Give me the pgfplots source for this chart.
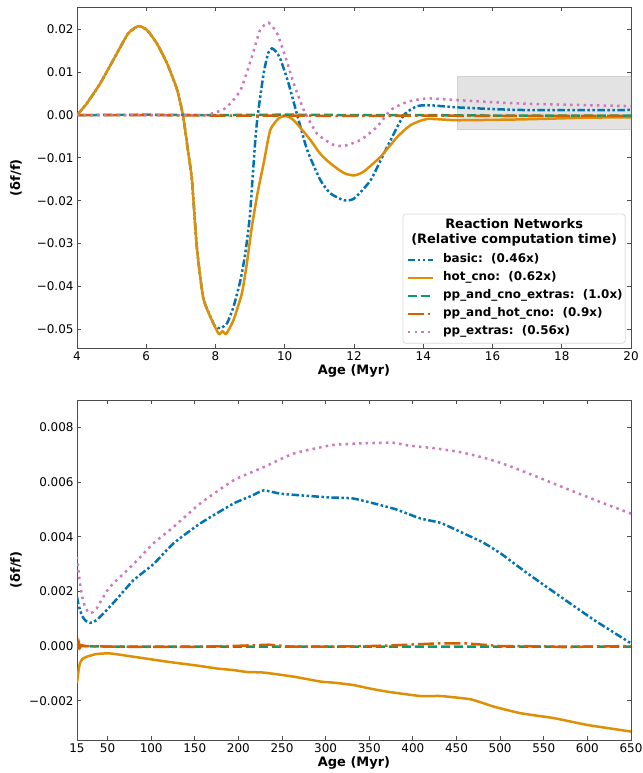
\documentclass[border=0pt]{standalone}
\usepackage{fontspec}
\setmainfont{DejaVu Sans}
\usepackage{pgfplots}
\usepackage{pgfplotstable}
\pgfplotsset{compat=1.18}
\definecolor{cbblue}{HTML}{0173B2}
\definecolor{cborange}{HTML}{DE8F05}
\definecolor{cbgreen}{HTML}{029E73}
\definecolor{cbred}{HTML}{D55E00}
\definecolor{cbpink}{HTML}{CC78BC}

\pgfplotstableread{
x y
4 0
4.28 0.0027
4.67 0.0074
5.15 0.0144
5.48 0.0191
5.77 0.0208
6.02 0.0199
6.31 0.0167
6.60 0.0121
6.88 0.0062
7.06 0.0
7.20 -0.0080
7.32 -0.0152
7.46 -0.0308
7.64 -0.0425
7.85 -0.0471
7.99 -0.0494
8.14 -0.0498
8.33 -0.0487
8.52 -0.0448
8.72 -0.0386
8.86 -0.0323
8.99 -0.0238
9.08 -0.0136
9.15 -0.0058
9.22 0.0
9.39 0.0097
9.52 0.0145
9.63 0.0156
9.75 0.0148
9.87 0.0132
10.11 0.0074
10.36 0.0
10.65 -0.0082
11.03 -0.0152
11.32 -0.0183
11.71 -0.0199
12.0 -0.0195
12.48 -0.0152
12.96 -0.0074
13.44 0.0
13.83 0.0021
14.21 0.0023
15.0 0.0018
16.82 0.0012
20.0 0.0012
}\topbasic

\pgfplotstableread{
x y
4 0
4.28 0.0027
4.67 0.0074
5.15 0.0144
5.48 0.0191
5.77 0.0208
6.02 0.0199
6.31 0.0167
6.60 0.0121
6.88 0.0062
7.06 0.0
7.20 -0.0080
7.32 -0.0152
7.46 -0.0308
7.64 -0.0425
7.85 -0.0471
8.09 -0.0511
8.20 -0.0505
8.31 -0.0511
8.52 -0.0479
8.76 -0.0417
8.90 -0.0350
9.05 -0.0261
9.22 -0.0180
9.39 -0.0113
9.58 -0.0035
9.82 -0.0008
10.02 -0.0002
10.26 -0.0012
10.74 -0.0058
11.03 -0.0091
11.32 -0.0113
11.70 -0.0135
12.0 -0.0141
12.28 -0.0132
12.77 -0.0097
13.25 -0.0051
13.64 -0.0023
14.12 -0.0009
15.0 -0.0012
16.82 -0.0010
18.75 -0.0006
20.0 -0.0005
}\tophot

\pgfplotstableread{
x y
4 0
6 0.0001
8 0
10 0.0001
12 0
14 0
16 -0.0001
18 -0.0001
20 -0.0001
}\topgreen

\pgfplotstableread{
x y
4 0
6 0
8 -0.0001
10 -0.0001
12 -0.0002
14 -0.0001
16 -0.0002
18 -0.0002
20 -0.0002
}\topred

\pgfplotstableread{
x y
4 0
7.6 0
7.9 0.0004
8.10 0.0009
8.33 0.0019
8.72 0.0058
9.05 0.0136
9.29 0.0199
9.53 0.0216
9.78 0.0191
10.02 0.0136
10.26 0.0074
10.55 0.0012
10.93 -0.0043
11.32 -0.0066
11.42 -0.0070
11.71 -0.0072
12.19 -0.0058
12.67 -0.0027
13.06 0.0012
13.54 0.0031
14.12 0.0039
15.0 0.0035
16.82 0.0027
20.0 0.0021
}\toppink

\pgfplotstableread{
x y
15 0.0018
16.5 0.00155
18.4 0.00132
21 0.00110
24.2 0.00095
27 0.00088
29.9 0.00085
33 0.00088
37.6 0.00095
43 0.00112
49.1 0.00132
60 0.00170
79.7 0.00241
102.6 0.0030
125.6 0.00376
156.2 0.00449
194.5 0.00522
215 0.00550
228.9 0.0057
248.1 0.00558
271 0.00552
305.5 0.00544
332.3 0.0054
378.2 0.00503
408.8 0.00467
431.8 0.00451
458.6 0.00412
480 0.00380
500.7 0.00339
531.4 0.00266
569.6 0.0018
607.9 0.00095
650 0.0001
}\botbasic

\pgfplotstableread{
x y
15 -0.00136
16 -0.00110
17 -0.00085
18.4 -0.00063
21 -0.00048
26.1 -0.00039
37.6 -0.00029
52.9 -0.00027
79.7 -0.00039
118 -0.00057
156.2 -0.00073
175 -0.00082
194.5 -0.00088
210 -0.00095
228.9 -0.00097
263.4 -0.00112
294 -0.0013
309.3 -0.00134
332.3 -0.00143
350 -0.00155
370.6 -0.00167
408.8 -0.00183
431.8 -0.00183
466.3 -0.00195
493 -0.00222
523.7 -0.00246
561.9 -0.00264
600.2 -0.00289
650 -0.00313
}\bothot

\pgfplotstableread{
x y
15 0.0
50 -0.00002
100 -0.00002
200 -0.00002
300 -0.00002
400 -0.00002
500 -0.00002
650 -0.00002
}\botgreen

\pgfplotstableread{
x y
15 0.0002
15.5 -0.00015
16 0.00012
16.8 -0.0001
17.5 0.00008
18.5 -0.00005
20 0.00003
25 0.0
50 -0.00002
100 -0.00003
150 -0.00003
200 0.00001
235 0.00005
260 -0.00002
300 -0.00002
350 0.0
380 0.00003
430 0.0001
460 0.0001
480 0.00005
500 0.0
550 -0.00001
575 -0.00004
600 -0.00002
650 0.0
}\botred

\pgfplotstableread{
x y
15 0.00327
16.5 0.0028
18.4 0.0023
21 0.00180
24.2 0.00144
27 0.00128
29.9 0.0012
33 0.00124
37.6 0.00138
43 0.00168
52.9 0.00217
79.7 0.0030
102.6 0.00376
125.6 0.00436
156.2 0.00522
194.5 0.00607
228.9 0.00655
263.4 0.00705
305.5 0.00735
332.3 0.00741
376.3 0.00745
393.6 0.00735
428 0.00723
454.8 0.0071
485.4 0.00686
508.4 0.00662
542.8 0.00619
581 0.0057
619.3 0.00522
650 0.00485
}\botpink

\pgfplotsset{
  sbasic/.style={cbblue, line width=2.5bp, dash pattern=on 7.5bp off 2.5bp on 2.5bp off 2.5bp on 2.5bp off 2.5bp},
  shot/.style={cborange, line width=2.5bp, solid},
  sgreen/.style={cbgreen, line width=2.5bp, dash pattern=on 9bp off 4bp},
  sred/.style={cbred, line width=2.5bp, dash pattern=on 16bp off 4bp on 2.5bp off 4bp},
  spink/.style={cbpink, line width=2.5bp, dash pattern=on 2.5bp off 4.2bp},
  myaxis/.style={
    scale only axis, width=554bp,
    axis line style={black!70, line width=0.9bp},
    tick align=inside,
    major tick style={black!70, line width=0.9bp},
    major tick length=4bp,
    minor tick num=0,
    scaled y ticks=false, scaled x ticks=false,
    tick label style={font=\fontsize{12}{14}\selectfont},
    /pgf/number format/assume math mode=true,
    ylabel={(δf/f)},
    xlabel={Age (Myr)},
    every axis y label/.style={at={(axis description cs:-0.110,0.5)}, anchor=center, rotate=90, font=\fontsize{13}{15}\selectfont\bfseries},
    every axis x label/.style={at={(axis description cs:0.5,0)}, anchor=center, yshift=-23bp, font=\fontsize{13}{15}\selectfont\bfseries},
    legend image code/.code={\draw[##1] (0bp,0bp) -- (25bp,0bp);},
    clip=true,
  }
}

\begin{document}
\begin{tikzpicture}
\useasboundingbox (0,0) rectangle (643bp,-773bp);
% ---------------- top panel ----------------
\begin{axis}[myaxis, at={(77bp,-7.3bp)}, anchor=north west,
  height=341bp,
  xmin=4, xmax=20, ymin=-0.0545, ymax=0.0252,
  xtick={4,6,...,20},
  ytick={-0.05,-0.04,-0.03,-0.02,-0.01,0,0.01,0.02},
  yticklabels={−0.05,−0.04,−0.03,−0.02,−0.01,0.00,0.01,0.02},
  legend style={at={(rel axis cs:0.595,0.277)}, anchor=north west,
    draw=none, fill=none, inner sep=0pt, outer sep=0pt,
    font=\fontsize{12}{14}\selectfont\bfseries,
    row sep=6bp,
    nodes={inner sep=0pt, text height=9bp, text depth=3bp},
    /tikz/every odd column/.append style={column sep=9bp}},
  legend cell align=left,
]
\fill[black!11] (axis cs:15,-0.0034) rectangle (axis cs:20,0.0090);
\draw[black!18, line width=0.8bp] (axis cs:15,-0.0034) rectangle (axis cs:20,0.0090);
\addplot[sbasic, smooth, tension=0.35] table[x=x,y=y]{\topbasic};
\addlegendentry{basic:\ \ (0.46x)}
\addplot[shot, smooth, tension=0.35] table[x=x,y=y]{\tophot};
\addlegendentry{hot\_cno:\ \ (0.62x)}
\addplot[sgreen] table[x=x,y=y]{\topgreen};
\addlegendentry{pp\_and\_cno\_extras:\ \ (1.0x)}
\addplot[sred] table[x=x,y=y]{\topred};
\addlegendentry{pp\_and\_hot\_cno:\ \ (0.9x)}
\addplot[spink, smooth, tension=0.35] table[x=x,y=y]{\toppink};
\addlegendentry{pp\_extras:\ \ (0.56x)}
\draw[black!15, fill=white, rounded corners=3bp, line width=0.8bp]
  (rel axis cs:0.5884,0.0147) rectangle (rel axis cs:0.9895,0.3938);
\node[font=\fontsize{13}{15}\selectfont\bfseries, align=center, anchor=center]
  at (rel axis cs:0.7891,0.3396) {Reaction Networks\\(Relative computation time)};
\end{axis}
% ---------------- bottom panel ----------------
\begin{axis}[myaxis, at={(77bp,-400bp)}, anchor=north west,
  height=340bp,
  xmin=15, xmax=650, ymin=-0.00344, ymax=0.00901,
  xtick={15,50,100,150,200,250,300,350,400,450,500,550,600,650},
  xticklabels={15,50,100,150,200,250,300,350,400,450,500,550,600,650},
  ytick={-0.002,0,0.002,0.004,0.006,0.008},
  yticklabels={−0.002,0.000,0.002,0.004,0.006,0.008},
]
\addplot[sbasic, smooth, tension=0.3] table[x=x,y=y]{\botbasic};
\addplot[shot, smooth, tension=0.3] table[x=x,y=y]{\bothot};
\addplot[sgreen] table[x=x,y=y]{\botgreen};
\addplot[sred] table[x=x,y=y]{\botred};
\addplot[spink, smooth, tension=0.3] table[x=x,y=y]{\botpink};
\end{axis}
\end{tikzpicture}
\end{document}
